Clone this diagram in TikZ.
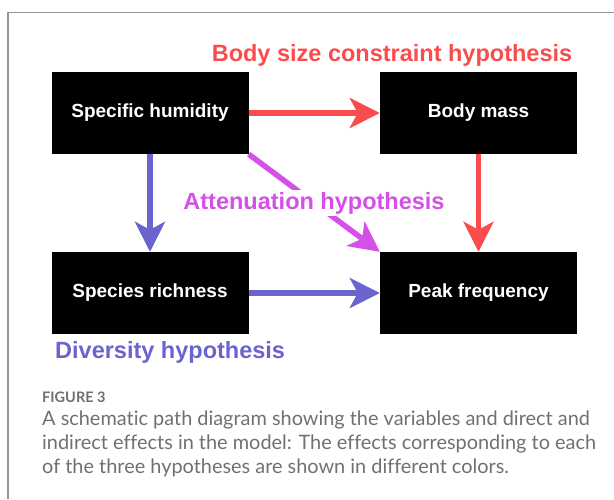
\documentclass[tikz,border=0pt]{standalone}
\usepackage{fontspec}
\setmainfont{Liberation Sans}
\newfontfamily\capfont[Ligatures={NoCommon,NoRare},Contextuals=NoAlternate]{Lato}
\usetikzlibrary{arrows.meta}
\definecolor{hred}{RGB}{250,76,76}
\definecolor{hblue}{RGB}{106,100,204}
\definecolor{hmag}{RGB}{212,80,230}
\definecolor{framegray}{RGB}{150,150,150}
\definecolor{capgray}{RGB}{112,112,112}
\tikzset{
  varbox/.style={fill=black,minimum width=197pt,minimum height=82pt,inner sep=0pt,
    text=white,font=\fontsize{19}{22}\selectfont\bfseries},
  effect/.style={line width=5.5pt,-{Stealth[length=30pt,width=30pt,inset=8pt]}},
  hyplabel/.style={font=\fontsize{23.5}{27}\selectfont\bfseries,inner sep=2pt},
  capline/.style={anchor=west,inner sep=0pt,text=capgray,font=\capfont\fontsize{19.9}{23}\selectfont}
}
\begin{document}
\begin{tikzpicture}[x=1pt,y=-1pt]
\useasboundingbox (0,0) rectangle (614,499);
\coordinate (fbl) at (8,499);
\coordinate (ftl) at (8,12.7);
\coordinate (ftr) at (614,12.7);
\draw[framegray,line width=1.4pt] (fbl) -- (ftl) -- (ftr);

\node[varbox] (sh) at (150,113) {Specific humidity};
\node[varbox] (bm) at (478.5,113) {Body mass};
\node[varbox] (sr) at (150,293) {Species richness};
\node[varbox] (pf) at (478.5,293) {Peak frequency};

\draw[effect,hred] (sh.east) -- (bm.west);
\draw[effect,hred] (bm.south) -- (pf.north);
\draw[effect,hblue] (sh.south) -- (sr.north);
\draw[effect,hblue] (sr.east) -- (pf.west);
\draw[effect,hmag] (sh.south east) -- (pf.north west);

\node[hyplabel,text=hred] (lbody) at (392,55) {Body size constraint hypothesis};
\node[hyplabel,text=hmag,fill=white] (latt) at (314,203) {Attenuation hypothesis};
\node[hyplabel,text=hblue,anchor=west] (ldiv) at (53,352) {Diversity hypothesis};

\node[anchor=west,inner sep=0pt,text=capgray,font=\capfont\bfseries\fontsize{14.5}{16}\selectfont] (fig) at (42,397) {FIGURE 3};
\node[capline] (c1) at (42,420) {A schemat\kern0pt ic path diagram showing the variables and direct and};
\node[capline] (c2) at (42,444) {indirect ef\kern0pt fects in the model: The ef\kern0pt fects corresponding to each};
\node[capline] (c3) at (42,468) {of the three hypotheses are shown in dif\kern0pt ferent colors.};
\end{tikzpicture}
\end{document}
